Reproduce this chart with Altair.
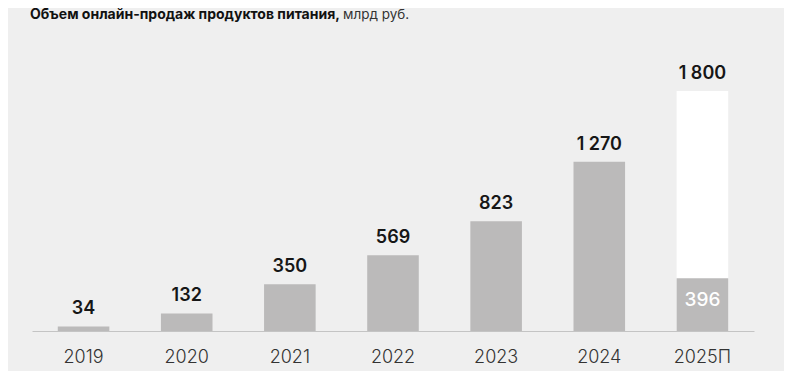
import altair as alt
import pandas as pd

years = ["2019", "2020", "2021", "2022", "2023", "2024", "2025П"]
values = [34, 132, 350, 569, 823, 1270, 1800]
labels = ["34", "132", "350", "569", "823", "1 270", "1 800"]
bar_colors = ["#bbbaba", "#bbbaba", "#bbbaba", "#bbbaba", "#bbbaba", "#bbbaba", "#ffffff"]
forecast_year = ["2025П"]
forecast_base = [396]
forecast_label = ["396"]

title_bold = "Объем онлайн-продаж продуктов питания,"
title_unit = "млрд руб."

df = pd.DataFrame({"year": years, "value": values, "label": labels, "color": bar_colors})
df_f = pd.DataFrame({"year": forecast_year, "value": forecast_base, "label": forecast_label})
df_t = pd.DataFrame({"a": [title_bold], "b": [title_unit]})

FONT = "Inter"

x = alt.X("year:N", sort=years, title=None,
          scale=alt.Scale(paddingInner=0.5, paddingOuter=0.25),
          axis=alt.Axis(labelAngle=0, ticks=False, domainColor="#c4c4c4", domainWidth=1,
                        labelFont=FONT, labelFontSize=18, labelFontWeight=300,
                        labelColor="#333333", labelPadding=17))
y = alt.Y("value:Q", scale=alt.Scale(domain=[0, 2100], nice=False), axis=None)

bars = alt.Chart(df).mark_bar().encode(x=x, y=y, color=alt.Color("color:N", scale=None))
vals = alt.Chart(df).mark_text(font=FONT, fontSize=18, fontWeight=600, color="#161616",
                               baseline="alphabetic", dy=-12).encode(x=x, y=y, text="label:N")
fbar = alt.Chart(df_f).mark_bar(color="#bbbaba").encode(x=x, y=y)
ftext = alt.Chart(df_f).mark_text(font=FONT, fontSize=19, fontWeight=500, color="#ffffff",
                                  baseline="alphabetic", dy=28).encode(x=x, y=y, text="label:N")
t1 = alt.Chart(df_t).mark_text(font=FONT, fontSize=14, fontWeight="bold", color="#111111",
                               align="left", baseline="alphabetic").encode(
    x=alt.value(-2), y=alt.value(-32), text="a:N")
t2 = alt.Chart(df_t).mark_text(font=FONT, fontSize=13.5, fontWeight=400, color="#333333",
                               align="left", baseline="alphabetic").encode(
    x=alt.value(311), y=alt.value(-32), text="b:N")

chart = alt.layer(bars, vals, fbar, ftext, t1, t2).properties(
    width=722, height=280,
    autosize=alt.AutoSizeParams(type="none"),
    padding={"left": 24, "top": 43, "right": 30, "bottom": 40},
    background="#efefef",
).configure_view(stroke=None)

chart.save("out.html", embed_options={"renderer": "svg", "actions": False})
